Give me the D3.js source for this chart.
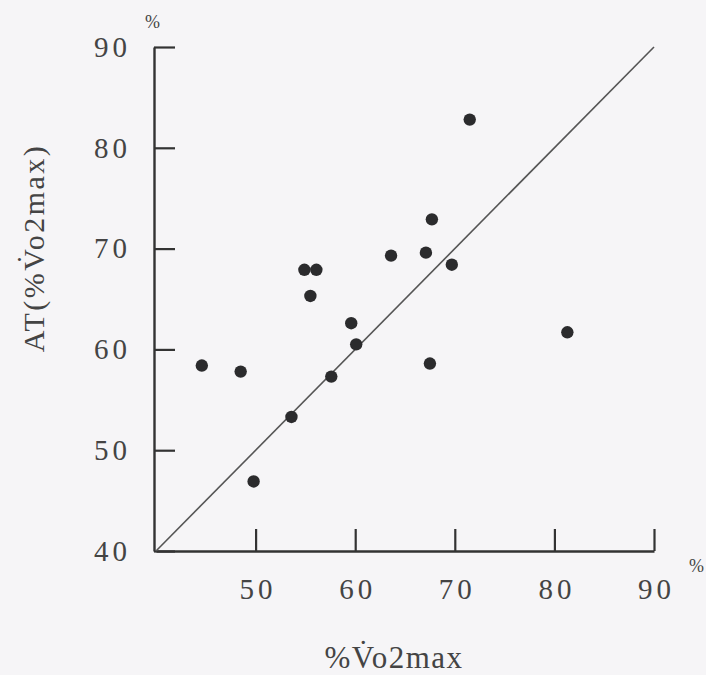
<!DOCTYPE html>
<html>
<head>
<meta charset="utf-8">
<script src="https://cdn.jsdelivr.net/npm/d3@7/dist/d3.min.js"></script>
<style>
  html, body { margin: 0; padding: 0; background: #f6f5f7; }
  svg { display: block; }
  text { font-family: "Liberation Serif", "Times New Roman", serif; fill: #444; }
</style>
</head>
<body>
<svg id="chart" width="706" height="675"></svg>
<script>
// %VO2max at which each subject was measured (x) and the anaerobic threshold (y)
const vo2maxPct = [71.5, 67.7, 63.6, 67.1, 69.7, 54.9, 56.1, 55.5, 59.6, 60.1, 44.6, 48.5, 67.5, 57.6, 53.6, 49.8, 81.3];
const atPct     = [82.8, 72.9, 69.3, 69.6, 68.4, 67.9, 67.9, 65.3, 62.6, 60.5, 58.4, 57.8, 58.6, 57.3, 53.3, 46.9, 61.7];

const xTicks = [50, 60, 70, 80, 90];
const yTicks = [40, 50, 60, 70, 80, 90];
const identityLine = [40, 90];

const svg = d3.select("#chart");

const x = d3.scaleLinear().domain([40, 90]).range([156, 654]);
const y = d3.scaleLinear().domain([40, 90]).range([551, 47]);

const axisColor = "#333";

// y axis: ticks point into the plot, labels on the left
const gy = svg.append("g")
  .attr("transform", `translate(${x(40) - 2},0)`)
  .call(d3.axisLeft(y).tickValues(yTicks).tickSize(-21).tickSizeOuter(0).tickPadding(27)
        .tickFormat(d3.format("d")));

// x axis: ticks point upward, labels below
const gx = svg.append("g")
  .attr("transform", `translate(0,${y(40)})`)
  .call(d3.axisBottom(x).tickValues(xTicks).tickSize(-22).tickSizeOuter(0).tickPadding(27)
        .tickFormat(d3.format("d")));

[gx, gy].forEach(g => {
  g.select(".domain").attr("stroke", axisColor).attr("stroke-width", 2.4);
  g.selectAll(".tick line").attr("stroke", axisColor).attr("stroke-width", 2.2);
  g.selectAll(".tick text")
    .attr("font-family", "Liberation Serif, serif")
    .attr("font-size", 29)
    .attr("letter-spacing", 4)
    .attr("fill", "#444");
});
gy.selectAll(".tick text").attr("dx", 4);
gx.selectAll(".tick text").attr("dx", 2);

// line of identity
svg.append("line")
  .attr("x1", x(identityLine[0])).attr("y1", y(identityLine[0]))
  .attr("x2", x(identityLine[1])).attr("y2", y(identityLine[1]))
  .attr("stroke", "#555").attr("stroke-width", 1.6);

// subjects
svg.append("g").selectAll("circle")
  .data(vo2maxPct.map((v, i) => ({ v, a: atPct[i] })))
  .join("circle")
  .attr("cx", d => x(d.v))
  .attr("cy", d => y(d.a))
  .attr("r", 6.2)
  .attr("fill", "#2b2b2d");

// unit marks
svg.append("text").attr("x", 145).attr("y", 28).attr("font-size", 18).text("%");
svg.append("text").attr("x", 689).attr("y", 572).attr("font-size", 18).text("%");

// axis titles
svg.append("text")
  .attr("x", 394).attr("y", 668)
  .attr("text-anchor", "middle")
  .attr("font-size", 31)
  .attr("letter-spacing", 1.5)
  .text("%V\u0307o2max");

svg.append("text")
  .attr("transform", "translate(44,248) rotate(-90)")
  .attr("text-anchor", "middle")
  .attr("font-size", 30)
  .attr("letter-spacing", 2.5)
  .text("AT(%V\u0307o2max)");
</script>
</body>
</html>
